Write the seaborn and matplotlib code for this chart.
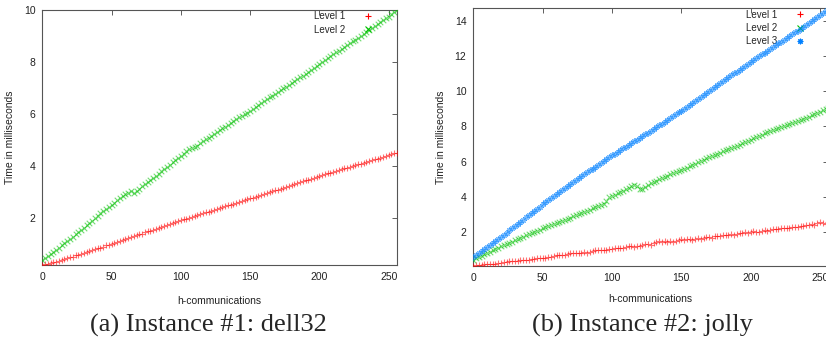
import matplotlib
matplotlib.use('Agg')
import matplotlib.pyplot as plt
from matplotlib.lines import Line2D
import seaborn as sns

h_comm = list(range(0, 257, 2))

# (a) Instance #1: dell32 -- time in milliseconds
dell32_level1 = [
    0.20, 0.22, 0.24, 0.27, 0.30, 0.33, 0.37, 0.39, 0.43, 0.46,
    0.49, 0.52, 0.57, 0.59, 0.62, 0.67, 0.69, 0.73, 0.77, 0.80,
    0.84, 0.87, 0.90, 0.95, 0.97, 1.02, 1.05, 1.09, 1.12, 1.16,
    1.20, 1.23, 1.27, 1.31, 1.34, 1.38, 1.41, 1.45, 1.49, 1.52,
    1.56, 1.59, 1.63, 1.67, 1.70, 1.74, 1.77, 1.81, 1.85, 1.88,
    1.92, 1.95, 1.98, 2.02, 2.05, 2.09, 2.12, 2.15, 2.19, 2.22,
    2.25, 2.29, 2.32, 2.35, 2.39, 2.42, 2.45, 2.49, 2.52, 2.55,
    2.59, 2.62, 2.65, 2.69, 2.72, 2.76, 2.79, 2.83, 2.86, 2.90,
    2.93, 2.96, 3.00, 3.03, 3.07, 3.10, 3.14, 3.17, 3.21, 3.24,
    3.28, 3.31, 3.35, 3.38, 3.41, 3.45, 3.48, 3.52, 3.55, 3.59,
    3.62, 3.65, 3.68, 3.72, 3.75, 3.78, 3.81, 3.84, 3.88, 3.91,
    3.94, 3.97, 4.00, 4.04, 4.07, 4.10, 4.13, 4.16, 4.20, 4.23,
    4.26, 4.29, 4.33, 4.36, 4.39, 4.42, 4.45, 4.49, 4.52,
]
dell32_level2 = [
    0.40, 0.46, 0.54, 0.61, 0.69, 0.77, 0.85, 0.95, 1.03, 1.11,
    1.20, 1.29, 1.38, 1.47, 1.55, 1.64, 1.73, 1.82, 1.91, 2.00,
    2.09, 2.18, 2.26, 2.35, 2.43, 2.52, 2.60, 2.68, 2.76, 2.84,
    2.91, 2.98, 3.04, 2.98, 3.06, 3.14, 3.22, 3.30, 3.38, 3.46,
    3.54, 3.63, 3.71, 3.80, 3.88, 3.97, 4.05, 4.14, 4.22, 4.31,
    4.40, 4.48, 4.57, 4.65, 4.68, 4.72, 4.79, 4.88, 4.95, 5.03,
    5.10, 5.17, 5.24, 5.31, 5.38, 5.45, 5.52, 5.59, 5.66, 5.73,
    5.80, 5.87, 5.93, 6.00, 6.06, 6.13, 6.20, 6.28, 6.35, 6.43,
    6.50, 6.57, 6.64, 6.71, 6.78, 6.85, 6.92, 6.99, 7.06, 7.13,
    7.20, 7.27, 7.34, 7.41, 7.48, 7.55, 7.62, 7.70, 7.77, 7.85,
    7.92, 8.00, 8.07, 8.15, 8.22, 8.30, 8.37, 8.44, 8.51, 8.58,
    8.65, 8.72, 8.79, 8.86, 8.93, 9.00, 9.08, 9.15, 9.23, 9.30,
    9.38, 9.45, 9.53, 9.60, 9.68, 9.75, 9.83, 9.92, 10.00,
]

# (b) Instance #2: jolly -- time in milliseconds
jolly_level1 = [
    0.05, 0.08, 0.10, 0.10, 0.12, 0.13, 0.15, 0.15, 0.17, 0.18,
    0.20, 0.25, 0.28, 0.30, 0.30, 0.30, 0.32, 0.35, 0.38, 0.40,
    0.40, 0.42, 0.45, 0.48, 0.50, 0.50, 0.50, 0.52, 0.55, 0.62,
    0.65, 0.65, 0.66, 0.68, 0.70, 0.75, 0.75, 0.76, 0.78, 0.80,
    0.82, 0.80, 0.85, 0.88, 0.92, 0.92, 0.95, 0.95, 0.97, 1.00,
    1.02, 1.05, 1.05, 1.06, 1.05, 1.12, 1.15, 1.15, 1.12, 1.18,
    1.15, 1.25, 1.28, 1.30, 1.25, 1.32, 1.38, 1.45, 1.42, 1.45,
    1.40, 1.45, 1.42, 1.48, 1.50, 1.55, 1.52, 1.58, 1.55, 1.52,
    1.58, 1.62, 1.60, 1.65, 1.70, 1.68, 1.65, 1.72, 1.75, 1.72,
    1.80, 1.78, 1.80, 1.85, 1.82, 1.88, 1.90, 1.92, 1.95, 1.92,
    1.98, 2.02, 1.98, 2.00, 2.05, 2.08, 2.05, 2.10, 2.12, 2.15,
    2.12, 2.18, 2.20, 2.22, 2.20, 2.25, 2.28, 2.25, 2.30, 2.32,
    2.35, 2.38, 2.45, 2.40, 2.48, 2.55, 2.50, 2.45, 2.52,
]
jolly_level2 = [
    0.40, 0.47, 0.55, 0.63, 0.70, 0.78, 0.85, 0.93, 1.00, 1.08,
    1.15, 1.22, 1.29, 1.36, 1.43, 1.50, 1.57, 1.64, 1.71, 1.78,
    1.85, 1.92, 1.98, 2.05, 2.11, 2.18, 2.24, 2.31, 2.37, 2.44,
    2.50, 2.56, 2.62, 2.68, 2.74, 2.80, 2.86, 2.93, 2.99, 3.06,
    3.12, 3.19, 3.25, 3.32, 3.38, 3.45, 3.52, 3.58, 3.75, 3.95,
    4.02, 4.10, 4.18, 4.26, 4.34, 4.42, 4.50, 4.58, 4.65, 4.62,
    4.42, 4.45, 4.55, 4.65, 4.75, 4.83, 4.90, 4.98, 5.05, 5.13,
    5.20, 5.26, 5.32, 5.38, 5.44, 5.50, 5.58, 5.65, 5.73, 5.80,
    5.88, 5.95, 6.03, 6.10, 6.18, 6.25, 6.32, 6.38, 6.45, 6.51,
    6.58, 6.64, 6.71, 6.77, 6.84, 6.90, 6.97, 7.04, 7.11, 7.18,
    7.25, 7.32, 7.39, 7.46, 7.53, 7.60, 7.66, 7.72, 7.78, 7.84,
    7.90, 7.96, 8.02, 8.08, 8.14, 8.20, 8.26, 8.32, 8.38, 8.44,
    8.50, 8.57, 8.64, 8.71, 8.78, 8.85, 8.92, 8.98, 9.05,
]
jolly_level3 = [
    0.55, 0.67, 0.78, 0.90, 1.01, 1.13, 1.25, 1.36, 1.48, 1.59,
    1.71, 1.83, 1.94, 2.06, 2.19, 2.31, 2.43, 2.56, 2.68, 2.81,
    2.93, 3.05, 3.18, 3.30, 3.43, 3.55, 3.67, 3.78, 3.90, 4.01,
    4.13, 4.25, 4.36, 4.48, 4.59, 4.71, 4.83, 4.94, 5.05, 5.16,
    5.27, 5.38, 5.49, 5.59, 5.70, 5.81, 5.92, 6.03, 6.14, 6.24,
    6.35, 6.45, 6.55, 6.65, 6.75, 6.85, 6.95, 7.05, 7.15, 7.25,
    7.35, 7.45, 7.55, 7.65, 7.76, 7.86, 7.96, 8.07, 8.17, 8.28,
    8.38, 8.48, 8.59, 8.69, 8.80, 8.90, 9.01, 9.12, 9.24, 9.35,
    9.46, 9.57, 9.68, 9.80, 9.91, 10.02, 10.13, 10.24, 10.36, 10.47,
    10.58, 10.69, 10.80, 10.92, 11.03, 11.14, 11.25, 11.36, 11.48, 11.59,
    11.70, 11.80, 11.91, 12.01, 12.12, 12.22, 12.32, 12.43, 12.53, 12.64,
    12.74, 12.84, 12.95, 13.05, 13.16, 13.27, 13.38, 13.48, 13.59, 13.70,
    13.81, 13.92, 14.02, 14.13, 14.24, 14.35, 14.48, 14.62, 14.75,
]

level_names = ['Level 1', 'Level 2', 'Level 3']
captions = ['(a) Instance #1: dell32', '(b) Instance #2: jolly']
x_ticks = [0, 50, 100, 150, 200, 250]
y_ticks_a = [2, 4, 6, 8, 10]
y_ticks_b = [2, 4, 6, 8, 10, 12, 14]

# gnuplot-like point styles
colors = ['#ff0000', '#00c000', '#0080ff']
markers = ['+', 'x', (8, 2, 0)]

sns.set_theme(style='white')
plt.rcParams['font.family'] = ['Liberation Sans', 'DejaVu Sans']

fig = plt.figure(figsize=(8.26, 3.43), dpi=100)
ax_a = fig.add_axes([0.0512, 0.2274, 0.4294, 0.7434])
ax_b = fig.add_axes([0.5730, 0.2254, 0.4298, 0.7504])

panels = [
    (ax_a, [dell32_level1, dell32_level2], y_ticks_a, 0.9456),
    (ax_b, [jolly_level1, jolly_level2, jolly_level3], y_ticks_b, 0.9476),
]

for ax, series, yt, leg_x in panels:
    for i, vals in enumerate(series):
        sns.scatterplot(x=h_comm, y=vals, marker=markers[i], color=colors[i],
                        s=16, linewidth=0.8, alpha=0.55, ax=ax, zorder=3)

    ax.set_xlim(min(h_comm), max(h_comm))
    all_vals = [v for s in series for v in s]
    ax.set_ylim(min(all_vals), max(all_vals))
    ax.set_xticks(x_ticks)
    ax.set_yticks(yt)
    ax.tick_params(direction='in', length=3.5, width=0.6, top=True, right=True,
                   labelsize=7.5, pad=5, color='#444444', labelcolor='#222222')
    for sp in ax.spines.values():
        sp.set_color('#555555')
        sp.set_linewidth(0.8)

    ax.set_xlabel('h-communications', fontsize=7.5, color='#222222')
    ax.set_ylabel('Time in milliseconds', fontsize=7.5, color='#222222')
    ax.yaxis.set_label_coords(-0.078, 0.5)

    handles = [Line2D([], [], ls='none', marker=markers[i], color=colors[i],
                      ms=4, mew=0.8) for i in range(len(series))]
    leg = ax.legend(handles, level_names[:len(series)], loc='upper right',
                    bbox_to_anchor=(leg_x, 0.995), frameon=False, markerfirst=False,
                    handlelength=2, handletextpad=1.37, borderpad=0, borderaxespad=0,
                    labelspacing=0.35, fontsize=7)
    leg.set_zorder(1)

ax_a.xaxis.set_label_coords(0.5, -0.1225)
ax_b.xaxis.set_label_coords(0.5, -0.110)

fig.text(0.252, 0.05, captions[0], ha='center', va='center',
         family='Liberation Serif', fontsize=19)
fig.text(0.778, 0.05, captions[1], ha='center', va='center',
         family='Liberation Serif', fontsize=19)

fig.savefig('out.png', dpi=100)
